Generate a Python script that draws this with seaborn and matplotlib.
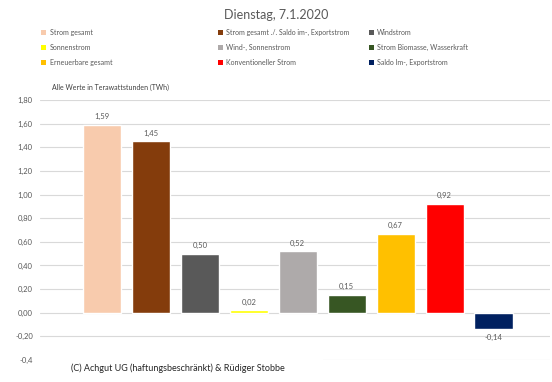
import pandas as pd
import matplotlib.pyplot as plt
import seaborn as sns
from matplotlib.patches import Patch, Rectangle

# values in TWh
categories = ['Strom gesamt', 'Strom gesamt ./. Saldo im-, Exportstrom', 'Windstrom',
              'Sonnenstrom', 'Wind-, Sonnenstrom', 'Strom Biomasse, Wasserkraft',
              'Erneuerbare gesamt', 'Konventioneller Strom', 'Saldo Im-, Exportstrom']
values = [1.59, 1.45, 0.50, 0.02, 0.52, 0.15, 0.67, 0.92, -0.14]
colors = ['#F8CBAD', '#843C0C', '#595959', '#FFFF00', '#AEAAAA',
          '#375623', '#FFC000', '#FF0000', '#002060']
yticks = [1.8, 1.6, 1.4, 1.2, 1.0, 0.8, 0.6, 0.4, 0.2, 0.0, -0.2, -0.4]
ytick_labels = ['1,80', '1,60', '1,40', '1,20', '1,00', '0,80', '0,60',
                '0,40', '0,20', '0,00', '-0,20', '-0,4']

df = pd.DataFrame({'Kategorie': categories, 'TWh': values})

sns.set_style('white')
plt.rcParams['font.family'] = ['Lato', 'DejaVu Sans']
grey = '#595959'

fig = plt.figure(figsize=(5.52, 3.82), dpi=100)
ax = fig.add_axes([0.072, 0.0576, 0.925, 0.6806])

sns.barplot(data=df, x='Kategorie', y='TWh', hue='Kategorie', palette=colors,
            legend=False, width=0.78, saturation=1, ax=ax)

ax.set_ylim(-0.4, 1.8)
ax.set_xlim(-1.27, 9.16)
ax.set_yticks(yticks)
ax.set_yticklabels(ytick_labels, fontsize=5.5, color=grey)
ax.set_xticks([])
ax.set_xlabel('')
ax.set_ylabel('')
ax.yaxis.grid(True, color='#D9D9D9', linewidth=0.8)
ax.set_axisbelow(True)
ax.tick_params(axis='y', length=0, pad=5)
for s in ax.spines.values():
    s.set_visible(False)

for i, v in enumerate(values):
    lbl = f'{v:.2f}'.replace('.', ',')
    off = 0.04 if v >= 0 else -0.04
    ax.text(i, v + off, lbl, ha='center', va='bottom' if v >= 0 else 'top',
            fontsize=5.5, color=grey)

fig.text(0.5, 0.96, 'Dienstag, 7.1.2020', ha='center', va='center',
         fontsize=9, color=grey)

# legend in three columns, row-major order like the original
col_x = [0.075, 0.395, 0.668]
for c in range(3):
    idx = [c, c + 3, c + 6]
    handles = [Patch(facecolor=colors[k], edgecolor='none') for k in idx]
    labels = [categories[k] for k in idx]
    fig.legend(handles, labels, loc='upper left', bbox_to_anchor=(col_x[c], 0.925),
               frameon=False, fontsize=5, labelcolor=grey, handlelength=0.7,
               handleheight=0.7, handletextpad=0.5, labelspacing=1.15,
               borderaxespad=0, borderpad=0)

fig.text(0.095, 0.772, 'Alle Werte in Terawattstunden (TWh)', ha='left',
         va='center', fontsize=5, color='#404040')

# copyright box covers the lowest gridline on the left
fig.patches.append(Rectangle((0.07, 0.0), 0.515, 0.075, transform=fig.transFigure,
                             facecolor='white', edgecolor='none', zorder=5))
fig.text(0.128, 0.036, '(C) Achgut UG (haftungsbeschränkt) & Rüdiger Stobbe',
         ha='left', va='center', fontsize=6.5, color='#262626', zorder=6)

fig.savefig('out.png', dpi=100)
